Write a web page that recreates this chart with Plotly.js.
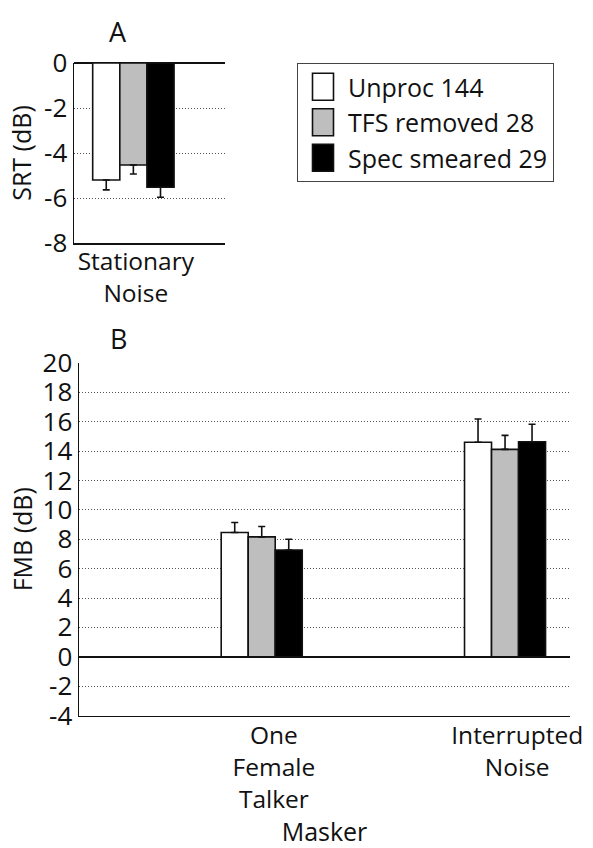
<!DOCTYPE html>
<html>
<head>
<meta charset="utf-8">
<script src="https://cdn.plot.ly/plotly-3.0.1.min.js"></script>
<style>html,body{margin:0;padding:0;background:#fff;}#chart{width:593px;height:848px;}</style>
</head>
<body>
<div id="chart"></div>
<script>
// ---- data ----
const seriesNames = ["Unproc 144", "TFS removed 28", "Spec smeared 29"];
const seriesColors = ["#ffffff", "#bebebe", "#000000"];

// Panel A: SRT in stationary noise
const catsA = ["Stationary<br>Noise"];
const srtUnproc = [-5.2];
const srtTfs = [-4.53];
const srtSmear = [-5.52];
const srtErrUnproc = [0.44];
const srtErrTfs = [0.40];
const srtErrSmear = [0.45];

// Panel B: FMB per masker
const catsB = ["One<br>Female<br>Talker", "Interrupted<br>Noise"];
const fmbUnproc = [8.46, 14.6];
const fmbTfs = [8.16, 14.12];
const fmbSmear = [7.27, 14.64];
const fmbErrUnproc = [0.68, 1.59];
const fmbErrTfs = [0.71, 0.95];
const fmbErrSmear = [0.73, 1.19];

const yTicksA = [0, -2, -4, -6, -8];
const yTicksB = [20, 18, 16, 14, 12, 10, 8, 6, 4, 2, 0, -2, -4];

// ---- build ----
const FONT = "Open Sans, sans-serif";
const posA = catsA.map((c, i) => i);
const posB = catsB.map((c, i) => i + 1);
const aVals = [srtUnproc, srtTfs, srtSmear];
const aErrs = [srtErrUnproc, srtErrTfs, srtErrSmear];
const bVals = [fmbUnproc, fmbTfs, fmbSmear];
const bErrs = [fmbErrUnproc, fmbErrTfs, fmbErrSmear];

const traces = [];
seriesNames.forEach((name, k) => {
  traces.push({
    type: "bar", name: name, legendgroup: name, showlegend: true,
    x: posA, y: aVals[k], xaxis: "x", yaxis: "y",
    marker: {color: seriesColors[k], line: {color: "#111", width: 1.6}},
    error_y: {type: "data", symmetric: false, array: aErrs[k].map(() => 0), arrayminus: aErrs[k],
              color: "#111", thickness: 1.6, width: 3.5},
    hoverinfo: "skip"
  });
});
seriesNames.forEach((name, k) => {
  traces.push({
    type: "bar", name: name, legendgroup: name, showlegend: false,
    x: posB, y: bVals[k], xaxis: "x2", yaxis: "y2",
    marker: {color: seriesColors[k], line: {color: "#111", width: 1.6}},
    error_y: {type: "data", symmetric: false, array: bErrs[k], arrayminus: bErrs[k].map(() => 0),
              color: "#111", thickness: 1.6, width: 3.5},
    hoverinfo: "skip"
  });
});

const W = 593, H = 848;
const px = v => v / W, py = v => 1 - v / H;

const yCommon = {
  showline: true, linecolor: "#111", linewidth: 1.5,
  showgrid: true, gridcolor: "#555", gridwidth: 1, griddash: "1px,2px",
  zeroline: true, zerolinecolor: "#111", zerolinewidth: 2.2,
  ticks: "", tickmode: "array", fixedrange: true
};
const xCommon = {
  showline: true, linecolor: "#111", linewidth: 1.5, showgrid: false, zeroline: false,
  ticks: "", tickmode: "array", fixedrange: true
};

const layout = {
  width: W, height: H,
  margin: {l: 0, r: 0, t: 0, b: 0},
  paper_bgcolor: "#fff", plot_bgcolor: "#fff",
  font: {family: FONT, color: "#111", size: 26},
  barmode: "group", bargap: 0.667, bargroupgap: 0,
  showlegend: true,
  legend: {
    x: px(297), y: py(63), xanchor: "left", yanchor: "top",
    bordercolor: "#444", borderwidth: 1, bgcolor: "#fff",
    font: {family: FONT, size: 25, color: "#111"},
    itemwidth: 40,
    tracegroupgap: 0, itemclick: false, itemdoubleclick: false
  },
  xaxis: Object.assign({}, xCommon, {
    domain: [px(74), px(225)], anchor: "y", range: [-0.243, 0.375],
    tickvals: posA.map(v => v + 0.01), ticktext: catsA, tickfont: {size: 24.5},
    ticklabelstandoff: -4
  }),
  yaxis: Object.assign({}, yCommon, {
    domain: [py(243), py(63)], anchor: "x", range: [-8, 0],
    tickvals: yTicksA, ticktext: yTicksA.map(String), tickfont: {size: 26},
    title: {text: "SRT (dB)", font: {size: 25}, standoff: 5}
  }),
  xaxis2: Object.assign({}, xCommon, {
    domain: [px(79), px(570)], anchor: "y2", range: [0.249, 2.267],
    tickvals: posB.map(v => v + 0.05), ticktext: catsB, tickfont: {size: 24.5},
    ticklabelstandoff: -2,
    title: {text: "Masker", font: {size: 25}, standoff: 8}
  }),
  yaxis2: Object.assign({}, yCommon, {
    domain: [py(715.5), py(363)], anchor: "x2", range: [-4, 20],
    tickvals: yTicksB, ticktext: yTicksB.map(String), tickfont: {size: 26},
    title: {text: "FMB (dB)", font: {size: 25}, standoff: 3}
  }),
  annotations: [
    {text: "A", x: px(118), y: py(32), xref: "paper", yref: "paper", showarrow: false,
     xanchor: "center", yanchor: "middle", font: {size: 27, family: FONT, color: "#111"}},
    {text: "B", x: px(118), y: py(338), xref: "paper", yref: "paper", showarrow: false,
     xanchor: "center", yanchor: "middle", font: {size: 27, family: FONT, color: "#111"}}
  ]
};

Plotly.newPlot("chart", traces, layout, {staticPlot: true, displayModeBar: false}).then(gd => {
  // enlarge legend swatches to tall rectangles like the reference
  gd.querySelectorAll(".legend .legendpoints path").forEach(p => {
    p.setAttribute("d", "M10.5,13.5H-10.5V-13.5H10.5Z");
  });
});
</script>
</body>
</html>
